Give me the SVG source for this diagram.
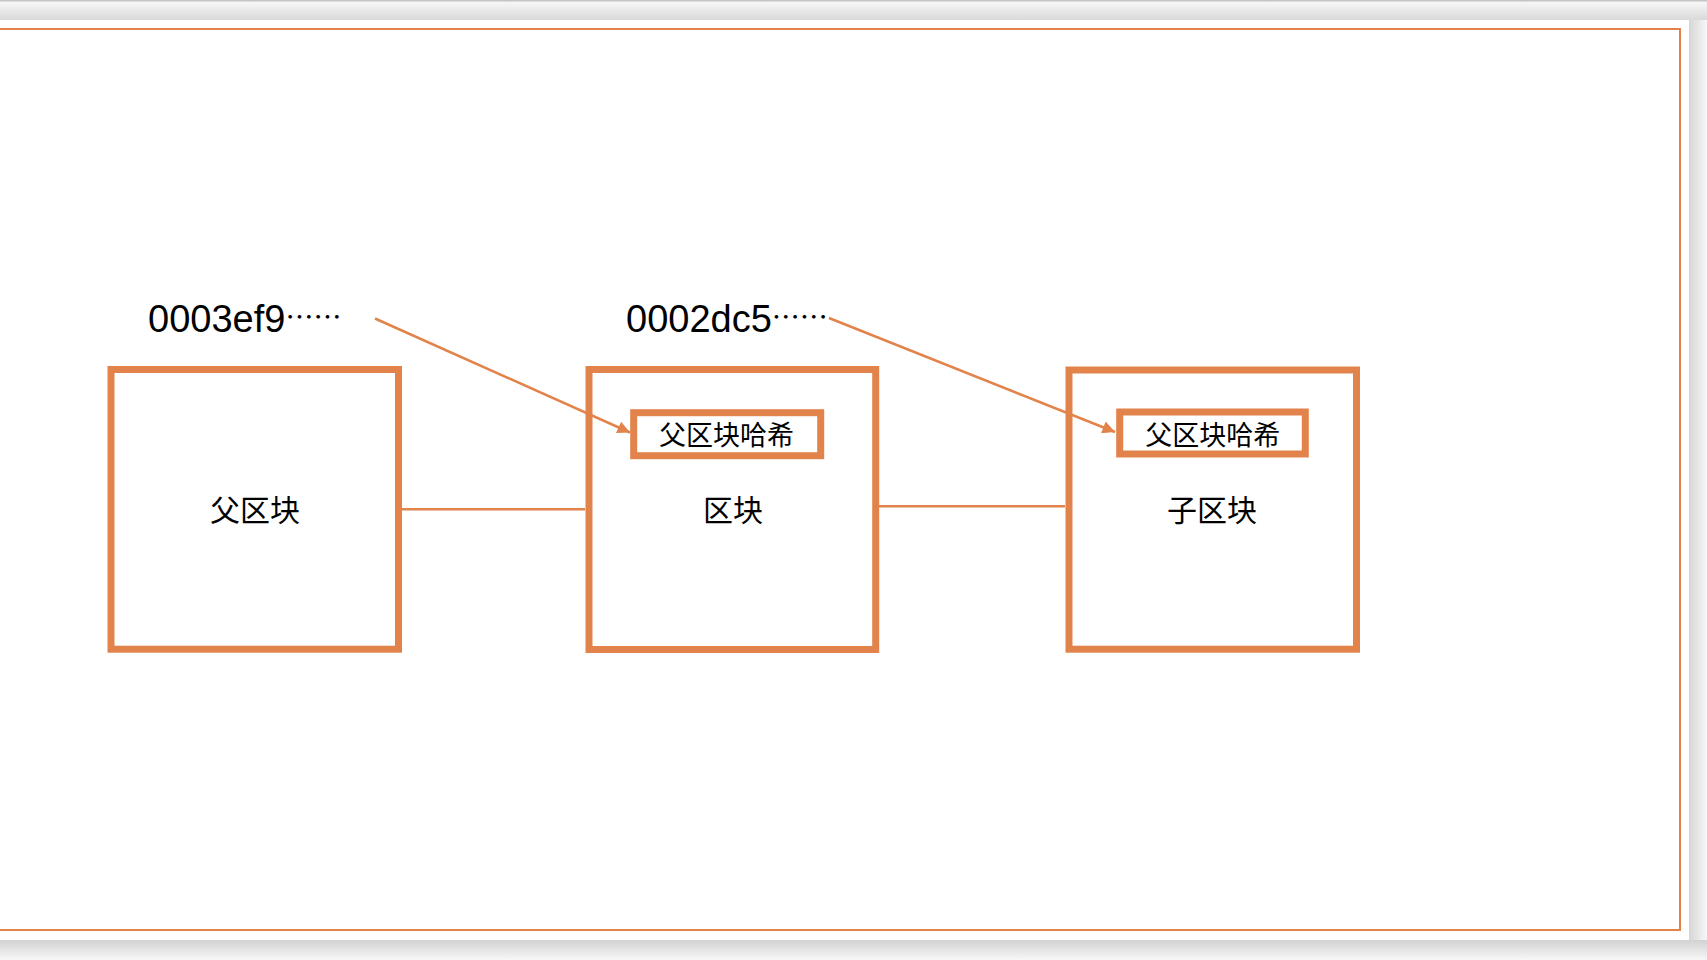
<svg xmlns="http://www.w3.org/2000/svg" width="1707" height="960" viewBox="0 0 1707 960">
<defs>
<linearGradient id="gTop" x1="0" y1="0" x2="0" y2="1"><stop offset="0" stop-color="#fafafa"/><stop offset="1" stop-color="#d9d9d9"/></linearGradient>
<linearGradient id="gRight" x1="0" y1="0" x2="1" y2="0"><stop offset="0" stop-color="#d6d6d6"/><stop offset="1" stop-color="#f7f7f7"/></linearGradient>
<linearGradient id="gBot" x1="0" y1="0" x2="0" y2="1"><stop offset="0" stop-color="#d2d2d2"/><stop offset="1" stop-color="#f7f7f7"/></linearGradient>
<marker id="arr" viewBox="0 0 10 10" refX="10" refY="5" markerWidth="6" markerHeight="5" orient="auto" markerUnits="strokeWidth"><path d="M0,0 L10,5 L0,10 Z" fill="#e1834a"/></marker>
<style>
.blk{fill:#fff;stroke:#e1834a;stroke-width:7}
.lbl{font-family:"Noto Sans CJK SC","Noto Sans",sans-serif;fill:#000;text-anchor:middle}
.hash{font-family:"Liberation Sans",Arial,sans-serif;font-size:38px;fill:#000}
.dots{font-family:"Noto Sans CJK SC",sans-serif;font-size:28px}
.con{stroke:#e1834a;stroke-width:2.5;fill:none}
</style>
</defs>
<rect x="0" y="0" width="1707" height="960" fill="#f6f6f6"/>
<rect x="0" y="0" width="1707" height="20" fill="url(#gTop)"/>
<rect x="0" y="0" width="1707" height="1.5" fill="#c4c4c4"/>
<rect x="1689" y="20" width="18" height="940" fill="url(#gRight)"/>
<rect x="0" y="940" width="1707" height="20" fill="url(#gBot)"/>
<rect x="0" y="20" width="1689" height="920" fill="#fff"/>
<rect x="-5" y="29" width="1685" height="901" fill="none" stroke="#e1834a" stroke-width="2"/>

<g id="hash1"><text class="hash" x="148" y="332">0003ef9<tspan class="dots" lang="zh-CN" dy="-4">……</tspan></text></g>
<g id="hash2"><text class="hash" x="626" y="332">0002dc5<tspan class="dots" lang="zh-CN" dy="-4">……</tspan></text></g>

<g id="parent">
<rect class="blk" x="111" y="369.5" width="287.5" height="279.7"/>
<text class="lbl" x="255" y="521" font-size="30">父区块</text>
</g>
<g id="block">
<rect class="blk" x="589" y="369.5" width="286.7" height="280"/>
<text class="lbl" x="733" y="521" font-size="30">区块</text>
<g id="block-hash">
<rect class="blk" x="633.7" y="412.7" width="187" height="43"/>
<text class="lbl" x="726.5" y="444.5" font-size="27">父区块哈希</text>
</g>
</g>
<g id="child">
<rect class="blk" x="1069" y="370" width="287.5" height="279.2"/>
<text class="lbl" x="1212" y="521" font-size="30">子区块</text>
<g id="child-hash">
<rect class="blk" x="1119.7" y="412" width="185.6" height="42"/>
<text class="lbl" x="1212.7" y="445" font-size="27">父区块哈希</text>
</g>
</g>

<g id="connectors">
<line class="con" x1="402" y1="509.3" x2="585" y2="509.3"/>
<line class="con" x1="879" y1="506.3" x2="1065" y2="506.3"/>
<line class="con" x1="375" y1="318.5" x2="630" y2="432.5" marker-end="url(#arr)"/>
<line class="con" x1="829" y1="318" x2="1115" y2="432" marker-end="url(#arr)"/>
</g>
</svg>
